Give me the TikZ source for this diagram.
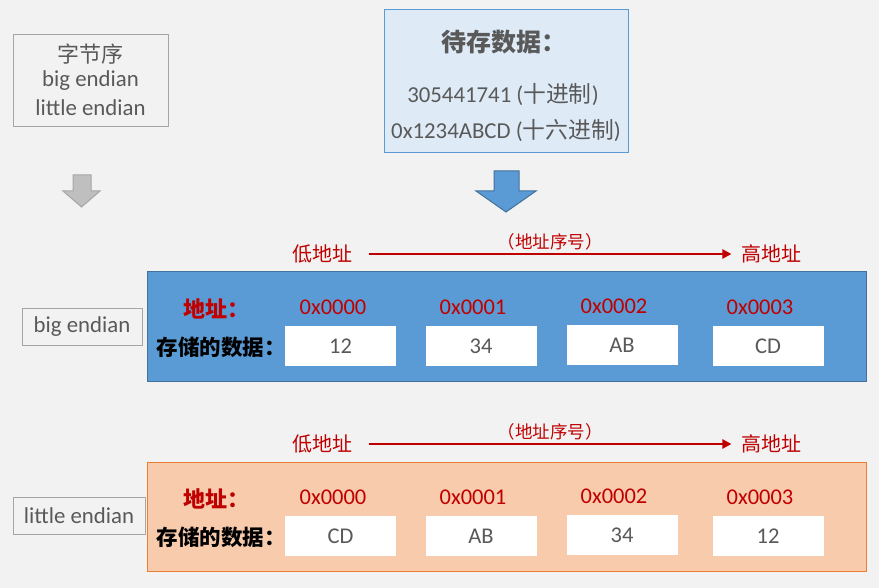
\documentclass[tikz,border=0pt]{standalone}
\usepackage{fontspec}
\setmainfont{Carlito}
\newfontfamily\cjk{Noto Sans CJK SC}
\usepackage{tikz}
\usetikzlibrary{arrows.meta,positioning}
\definecolor{bgc}{HTML}{F2F2F2}
\definecolor{txtgray}{HTML}{595959}
\definecolor{boxgray}{HTML}{A6A6A6}
\definecolor{arrgray}{HTML}{BFBFBF}
\definecolor{lightblue}{HTML}{DEEBF7}
\definecolor{midblue}{HTML}{5B9BD5}
\definecolor{darkblue}{HTML}{41719C}
\definecolor{peach}{HTML}{F8CBAD}
\definecolor{orangeline}{HTML}{ED7D31}
\definecolor{addrred}{HTML}{C00000}
\newcommand{\fsz}[1]{\fontsize{#1}{#1}\selectfont}

\begin{document}
\begin{tikzpicture}[x=1pt,y=-1pt,
  txt/.style={text=txtgray,font=\fsz{22.8}},
  tagbox/.style={draw=boxgray,line width=1pt,fill=bgc,minimum height=37pt},
  addr/.style={text=addrred,font=\fsz{22.5}},
  cell/.style={fill=white,minimum width=111pt,minimum height=40pt,inner sep=0pt,text=txtgray,font=\fsz{22.5}},
  side/.style={text=addrred,font=\cjk\fsz{20}},
  seq/.style={text=addrred,font=\cjk\fsz{17.5}},
  order/.style={draw=addrred,line width=2.2pt,-{Triangle[length=9pt,width=9pt]},shorten <=13pt,shorten >=6pt}]

   \fill[bgc] (0,0) rectangle (879,588);
   \useasboundingbox (0,0) rectangle (879,588);

   % 字节序
   \node[draw=boxgray,line width=1pt,minimum width=155pt,minimum height=92pt] (orderbox) at (90.5,81) {};
   \node[txt,font=\cjk\fsz{22}] (ordertitle) at (90.5,54) {字节序};
   \node[txt] (orderbig) at (90.5,81) {big endian};
   \node[txt] (orderlittle) at (90.5,108) {little endian};

   % 待存数据
   \node[draw=midblue,line width=1pt,fill=lightblue,minimum width=244pt,minimum height=143pt] (inbox) at (506,81.5) {};
   \node[text=txtgray,font=\cjk\bfseries\fsz{25}] (intitle) at (504,42) {待存数据：};
   \node[text=txtgray,font=\fsz{22.8}] (indec) at (503,95) {305441741 ({\cjk 十进制})};
   \node[text=txtgray,font=\fsz{22.8}] (inhex) at (506,131) {0x1234ABCD ({\cjk 十六进制})};

   % 下箭头
   \draw[line width=1pt,draw=boxgray,fill=arrgray]
    (73,175) -- (91,175) -- (91,191) -- (100,191) -- (81.5,207) -- (63,191) -- (73,191) -- cycle;
   \draw[line width=1pt,draw=darkblue,fill=midblue]
    (494,171) -- (519,171) -- (519,191) -- (536,191) -- (506,212) -- (476,191) -- (494,191) -- cycle;

   % big endian
   \node[side] (lowB) at (322,254) {低地址};
   \node[side] (highB) at (771,254) {高地址};
   \node[seq] (seqB) at (550,242) {（地址序号）};
   \draw[order] (lowB.east) -- (highB.west);

   \draw[line width=1pt,draw=darkblue,fill=midblue] (147,272) rectangle (866,381);
   \node[tagbox,txt,minimum width=120pt] (bigtag) at (82,327) {big endian};
   \node[text=addrred,font=\cjk\bfseries\fsz{22}] (addrB) at (216,309) {地址：};
   \node[font=\cjk\bfseries\fsz{21.5}] (dataB) at (221,347) {存储的数据：};
   \node[addr] (aB1) at (333,307) {0x0000};
   \node[addr] (aB2) at (473,307) {0x0001};
   \node[addr] (aB3) at (614,306) {0x0002};
   \node[addr] (aB4) at (760,307) {0x0003};
   \node[cell] (cB1) at (340.5,346) {12};
   \node[cell] (cB2) at (481,346) {34};
   \node[cell] (cB3) at (622,345) {AB};
   \node[cell] (cB4) at (768,346) {CD};

   % little endian
   \node[side] (lowL) at (322,444) {低地址};
   \node[side] (highL) at (771,444) {高地址};
   \node[seq] (seqL) at (550,432) {（地址序号）};
   \draw[order] (lowL.east) -- (highL.west);

   \draw[line width=1pt,draw=orangeline,fill=peach] (147,462) rectangle (866,571);
   \node[tagbox,txt,minimum width=132pt] (littletag) at (79,515.5) {little endian};
   \node[text=addrred,font=\cjk\bfseries\fsz{22}] (addrL) at (216,499) {地址：};
   \node[font=\cjk\bfseries\fsz{21.5}] (dataL) at (221,537) {存储的数据：};
   \node[addr] (aL1) at (333,497) {0x0000};
   \node[addr] (aL2) at (473,497) {0x0001};
   \node[addr] (aL3) at (614,496) {0x0002};
   \node[addr] (aL4) at (760,497) {0x0003};
   \node[cell] (cL1) at (340.5,536) {CD};
   \node[cell] (cL2) at (481,536) {AB};
   \node[cell] (cL3) at (622,535) {34};
   \node[cell] (cL4) at (768,536) {12};

\end{tikzpicture}
\end{document}
